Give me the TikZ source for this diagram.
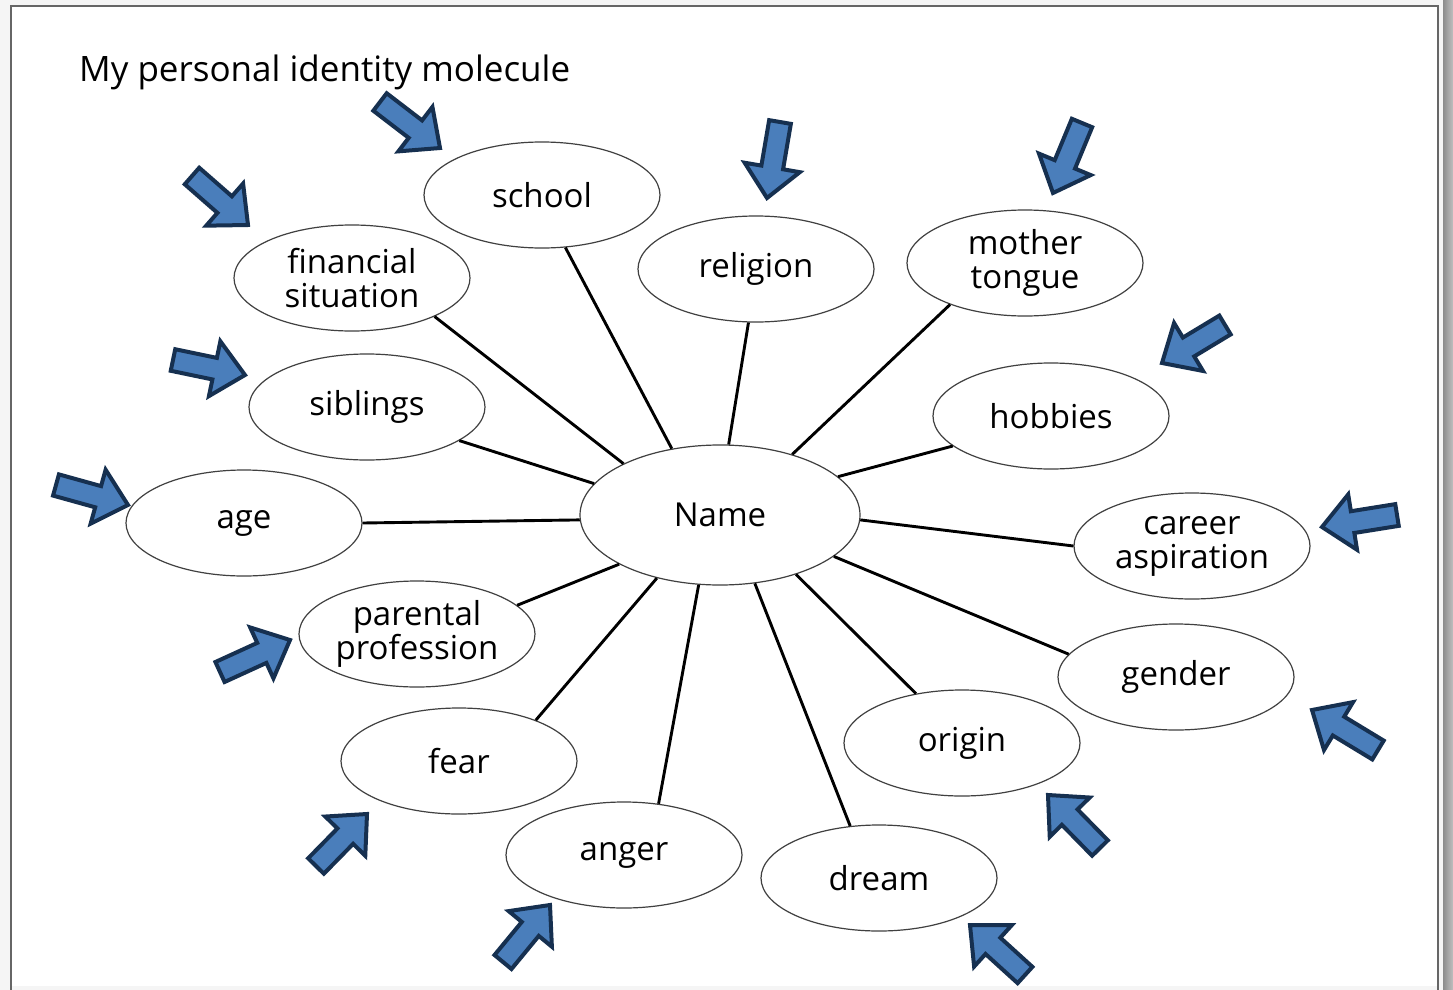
\documentclass[tikz,border=0pt]{standalone}
\usepackage{fontspec}
\setmainfont{Open Sans}
\usetikzlibrary{calc,shapes.geometric}
\definecolor{arrowfill}{RGB}{74,126,187}
\definecolor{arrowline}{RGB}{22,48,80}
\tikzset{
  bubble/.style={ellipse,draw=black!75,line width=1.2pt,minimum width=236pt,
    minimum height=106pt,inner sep=0pt,align=center,
    font=\fontsize{33}{34}\selectfont},
  link/.style={line width=2.9pt,black},
  blockarr/.style={fill=arrowfill,draw=arrowline,line width=4pt,line join=miter}
}
\newcommand\blockarrow[2]{%
  \path #1 coordinate (T) #2 coordinate (P);
  \path ($(P)!31pt!(T)$) coordinate (H);
  \draw[blockarr] ($(T)!11pt!90:(P)$) -- ($(H)!11pt!90:(P)$) -- ($(H)!28pt!90:(P)$)
    -- (P) -- ($(H)!28pt!-90:(P)$) -- ($(H)!11pt!-90:(P)$) -- ($(T)!11pt!-90:(P)$) -- cycle;
}
\begin{document}
\begin{tikzpicture}[x=1pt,y=-1pt]
\useasboundingbox (0,0) rectangle (1453,990);
% page
\fill[black!4] (0,0) rectangle (1453,990);
\shade[left color=black!45,right color=black!25] (1443,0) rectangle (1453,990);
\fill[white] (11,6) rectangle (1438,986);
\draw[black!60,line width=2pt] (11,1000) -- (11,6) -- (1438,6) -- (1438,1000);
% title
\node[anchor=west,font=\fontsize{35}{36}\selectfont,inner sep=0pt] (title) at (79,72) {My personal identity molecule};
% centre
\node[bubble,minimum width=280pt,minimum height=140pt] (name) at (720,515) {Name};
% outer bubbles
\node[bubble] (school) at (542,195) {school};
\node[bubble] (fin) at (352,278) {financial\\situation};
\node[bubble] (rel) at (756,269) {religion};
\node[bubble] (mot) at (1025,263) {mother\\tongue};
\node[bubble] (sib) at (367,407) {siblings};
\node[bubble] (hob) at (1051,416) {hobbies};
\node[bubble] (age) at (244,523) {age};
\node[bubble] (car) at (1192,546) {career\\aspiration};
\node[bubble] (par) at (417,634) {parental\\profession};
\node[bubble] (gen) at (1176,677) {gender};
\node[bubble] (fear) at (459,761) {fear};
\node[bubble] (ori) at (962,743) {origin};
\node[bubble] (ang) at (624,855) {anger};
\node[bubble] (dre) at (879,878) {dream};
% links
\draw[link] (school.-66.5) -- (name.126.4);
\draw[link] (fin.-25.2) -- (name.152.1);
\draw[link] (rel.-98.6) -- (name.83.4);
\draw[link] (mot.-151) -- (name.40.2);
\draw[link] (sib.-20.3) -- (name.166.6);
\draw[link] (hob.-163.8) -- (name.18.6);
\draw[link] (age.0) -- (name.182);
\draw[link] (car.180) -- (name.-2);
\draw[link] (par.16.5) -- (name.-154.7);
\draw[link] (gen.168.3) -- (name.-20.9);
\draw[link] (fear.28.9) -- (name.-135.8);
\draw[link] (ori.133.8) -- (name.-38.2);
\draw[link] (ang.56.8) -- (name.-107);
\draw[link] (dre.119.6) -- (name.-63.7);
% block arrows
\blockarrow{(380,102)}{(440,148)}
\blockarrow{(192,176)}{(248,225)}
\blockarrow{(780,122)}{(767,198)}
\blockarrow{(1082,123)}{(1053,193)}
\blockarrow{(1225,325)}{(1162,363)}
\blockarrow{(173,360)}{(245,375)}
\blockarrow{(56,485)}{(128,505)}
\blockarrow{(1397,515)}{(1322,527)}
\blockarrow{(220,672)}{(290,640)}
\blockarrow{(1378,750)}{(1312,710)}
\blockarrow{(316,866)}{(367,814)}
\blockarrow{(1100,848)}{(1048,795)}
\blockarrow{(503,962)}{(550,905)}
\blockarrow{(1025,975)}{(970,925)}
\end{tikzpicture}
\end{document}
